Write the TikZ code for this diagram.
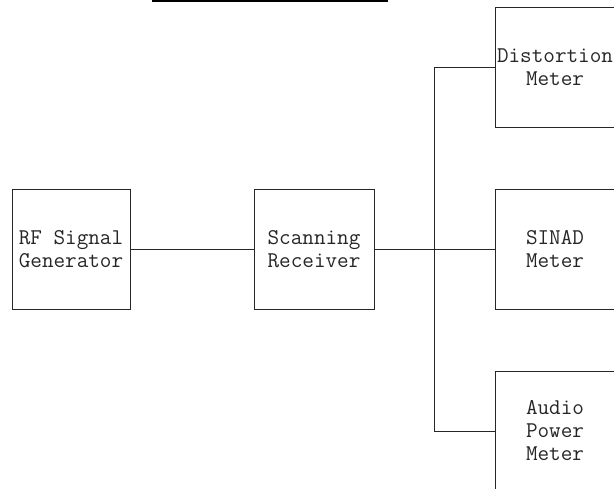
\documentclass[tikz,border=0pt]{standalone}
\usepackage{fontspec}
\begin{document}
\begin{tikzpicture}[x=1pt,y=-1pt,
  block/.style={draw=black!85, line width=0.9pt, minimum width=120pt, minimum height=120pt,
    inner sep=0pt, align=center, text=black!85,
    font=\ttfamily\fontsize{22.5}{23}\selectfont},
  wire/.style={draw=black!85, line width=0.9pt}]
  \useasboundingbox (0,0) rectangle (614,489);
  \clip (0,0) rectangle (614,489);
  % title rule
  \coordinate (r1) at (152,1);
  \coordinate (r2) at (388,1);
  \draw[line width=2pt] (r1) -- (r2);
  % blocks
  \node[block, minimum width=118pt] (rf) at (71,249) {RF Signal\\Generator};
  \node[block] (scan) at (314,249) {Scanning\\Receiver};
  \node[block] (dist) at (555,67) {Distortion\\Meter};
  \node[block] (sinad) at (555,249) {SINAD\\Meter};
  \node[block] (audio) at (555,431) {Audio\\Power\\Meter};
  % bus
  \coordinate (bt) at (434,67);
  \coordinate (bb) at (434,431);
  \draw[wire] (rf.east) -- (scan.west);
  \draw[wire] (scan.east) -- (sinad.west);
  \draw[wire] (dist.west) -- (bt) -- (bb) -- (audio.west);
\end{tikzpicture}
\end{document}
